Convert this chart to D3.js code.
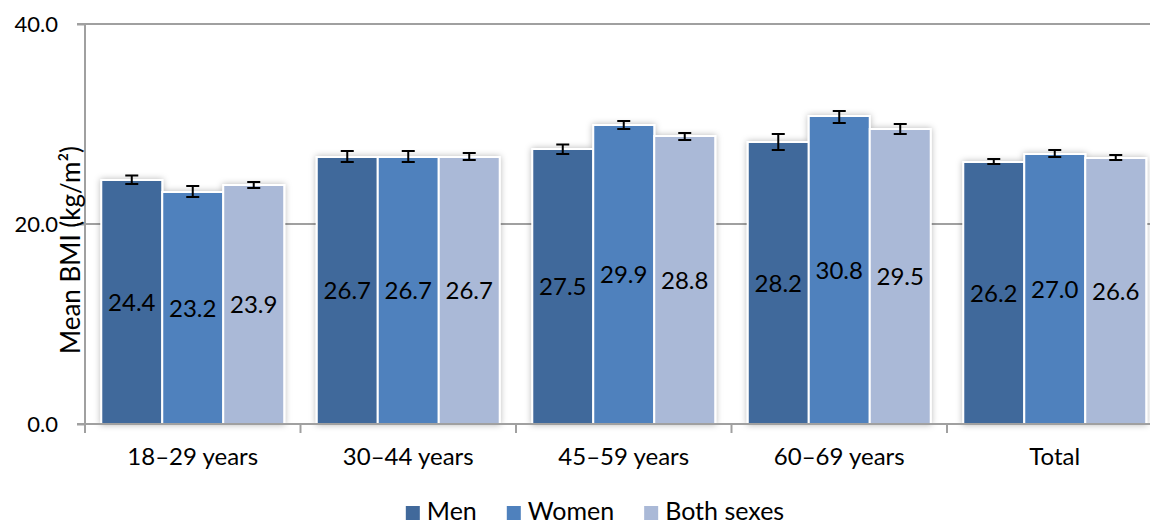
<!DOCTYPE html>
<html><head><meta charset="utf-8">
<script src="https://cdn.jsdelivr.net/npm/d3@7"></script>
<style>
html,body{margin:0;padding:0;background:#fff;}
svg{display:block;font-family:Lato, "Open Sans", sans-serif;}
</style></head>
<body><svg id="chart" width="1150" height="525"></svg>
<script>
const categories = ["18–29 years","30–44 years","45–59 years","60–69 years","Total"];
const seriesNames = ["Men","Women","Both sexes"];
const men   = [24.4, 26.7, 27.5, 28.2, 26.2];
const women = [23.2, 26.7, 29.9, 30.8, 27.0];
const both  = [23.9, 26.7, 28.8, 29.5, 26.6];
const menLow   = [24.0, 26.2, 27.0, 27.4, 26.0];
const menHigh  = [24.85, 27.3, 27.95, 29.0, 26.5];
const womenLow  = [22.7, 26.2, 29.5, 30.1, 26.7];
const womenHigh = [23.8, 27.3, 30.3, 31.3, 27.4];
const bothLow   = [23.6, 26.4, 28.4, 29.0, 26.4];
const bothHigh  = [24.2, 27.1, 29.1, 30.0, 26.9];
const yTicks = [0, 20, 40];
const colors = ["#41699B", "#4F81BD", "#AAB9D7"];

const values = [men, women, both];
const lows = [menLow, womenLow, bothLow];
const highs = [menHigh, womenHigh, bothHigh];

const svg = d3.select("#chart");
const mLeft = 85, mTop = 24, mBottom = 424;
const step = 215.5;
const mRight = mLeft + step * categories.length;

const x = d3.scaleBand().domain(categories).range([mLeft, mRight]).paddingInner(0.151).paddingOuter(0.0755);
const xs = d3.scaleBand().domain(seriesNames).range([0, x.bandwidth()]).padding(0);
const y = d3.scaleLinear().domain([0, 40]).range([mBottom, mTop]);

const defs = svg.append("defs");
const f = defs.append("filter").attr("id","sh").attr("x","-20%").attr("y","-5%").attr("width","140%").attr("height","110%");
f.append("feDropShadow").attr("dx",0).attr("dy",0).attr("stdDeviation",3).attr("flood-color","#000").attr("flood-opacity",0.28);

// gridlines
svg.append("g").selectAll("line").data(yTicks.filter(d=>d>0)).join("line")
  .attr("x1", mLeft - 8).attr("x2", 1150).attr("y1", d=>y(d)).attr("y2", d=>y(d))
  .attr("stroke", "#a0a0a0").attr("stroke-width", 2);

// y axis
const yAxis = d3.axisLeft(y).tickValues(yTicks).tickFormat(d3.format(".1f")).tickSize(8).tickPadding(19);
const ga = svg.append("g").attr("transform", `translate(${mLeft},0)`).call(yAxis);
ga.select(".domain").attr("stroke","#a0a0a0").attr("stroke-width",2).attr("d", `M0,${mTop}V${mBottom+9}`);
ga.selectAll(".tick line").attr("stroke","#a0a0a0").attr("stroke-width",2);
ga.selectAll(".tick text").attr("font-size",22).attr("fill","#000").attr("font-family","Lato").attr("dy","0.35em");

// bars
const groups = svg.append("g").selectAll("g").data(categories).join("g")
  .attr("transform", d=>`translate(${x(d)},0)`);
groups.each(function(cat, ci){
  const g = d3.select(this);
  const gb = g.append("g").attr("filter","url(#sh)");
  seriesNames.forEach((s, si)=>{
    const v = values[si][ci];
    gb.append("rect")
      .attr("x", xs(s)).attr("width", xs.bandwidth())
      .attr("y", y(v)).attr("height", y(0)-y(v))
      .attr("fill", colors[si]).attr("stroke", "#fff").attr("stroke-width", 2);
  });
  seriesNames.forEach((s, si)=>{
    const v = values[si][ci];
    const cx = xs(s) + xs.bandwidth()/2;
    g.append("text").attr("x", cx).attr("y", (y(v)+y(0))/2).attr("dy","0.36em")
      .attr("text-anchor","middle").attr("font-size",24).attr("fill","#000").text(d3.format(".1f")(v));
    const lo = y(lows[si][ci]), hi = y(highs[si][ci]);
    const eb = g.append("g").attr("stroke","#000").attr("stroke-width",2);
    eb.append("line").attr("x1",cx).attr("x2",cx).attr("y1",lo).attr("y2",hi);
    eb.append("line").attr("x1",cx-6.5).attr("x2",cx+6.5).attr("y1",lo).attr("y2",lo);
    eb.append("line").attr("x1",cx-6.5).attr("x2",cx+6.5).attr("y1",hi).attr("y2",hi);
  });
});

// x axis
const xg = svg.append("g");
xg.append("line").attr("x1", mLeft-8).attr("x2", 1150).attr("y1", mBottom).attr("y2", mBottom)
  .attr("stroke","#a0a0a0").attr("stroke-width",2);
const bounds = categories.map((c,i)=> mLeft + i*x.step());
xg.selectAll("line.tk").data(bounds).join("line").attr("class","tk")
  .attr("x1", d=>d).attr("x2", d=>d).attr("y1", mBottom).attr("y2", mBottom+9)
  .attr("stroke","#a0a0a0").attr("stroke-width",2);
xg.selectAll("text").data(categories).join("text")
  .attr("x", d=> x(d) + x.bandwidth()/2).attr("y", 465)
  .attr("text-anchor","middle").attr("font-size",24).attr("fill","#000").text(d=>d);

// y title
svg.append("text").attr("transform","translate(80,250) rotate(-90)")
  .attr("text-anchor","middle").attr("font-size",26).attr("fill","#000")
  .text("Mean BMI (kg/m²)");

// legend
const lg = svg.append("g");
let lx = 0;
seriesNames.forEach((s,i)=>{
  const it = lg.append("g");
  it.append("rect").attr("x",0).attr("y",-14).attr("width",14).attr("height",14).attr("fill",colors[i]);
  const t = it.append("text").attr("x",21).attr("y",0).attr("font-size",25).attr("fill","#000").text(s);
  const w = 21 + t.node().getComputedTextLength();
  it.attr("transform", `translate(${lx},0)`);
  lx += w + 30;
});
const totalW = lx - 30;
lg.attr("transform", `translate(${595 - totalW/2},520)`);
</script></body></html>
